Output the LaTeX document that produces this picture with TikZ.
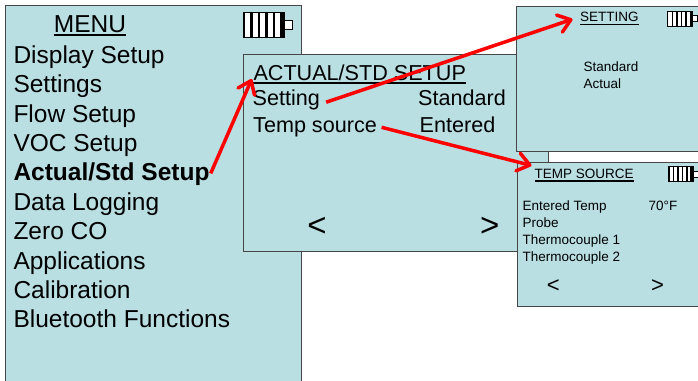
\documentclass[tikz,border=0pt]{standalone}
\usepackage{fontspec}
\setmainfont{Liberation Sans}
\usetikzlibrary{arrows.meta,calc}
\definecolor{scr}{RGB}{186,223,227}
\definecolor{edge}{RGB}{70,70,70}
\definecolor{arr}{RGB}{255,0,0}
\tikzset{
  battery/.pic={
    \draw[fill=white,line width=0.6pt] (0,0) rectangle (41,24.5);
    \fill (0,0) rectangle (2,24.5);
    \foreach \bx in {7.3,14.8,22.3,29.8} \fill (\bx,0) rectangle ++(2.3,24.5);
    \fill (36.5,0) rectangle (41,24.5);
    \draw[fill=white,line width=0.6pt] (41,7.5) rectangle (49.5,17);
  }
}
\begin{document}
\begin{tikzpicture}[x=1pt,y=-1pt,
  screen/.style={draw=edge,fill=scr,line width=1.3pt,inner sep=0,anchor=north west},
  big/.style={inner sep=0,anchor=base west,font=\fontsize{24.5}{28}\selectfont},
  mid/.style={inner sep=0,anchor=base west,font=\fontsize{21.6}{26}\selectfont},
  small/.style={inner sep=0,anchor=base west,font=\fontsize{13.5}{16}\selectfont},
  navbig/.style={inner sep=0,font=\fontsize{33}{36}\selectfont},
  navsmall/.style={inner sep=0,font=\fontsize{22}{26}\selectfont},
  uline/.style={line width=1.8pt},
  redarrow/.style={draw=arr,line width=3.5pt,-{Straight Barb[length=12pt,width=18pt,round]}},
]
\clip (0,0) rectangle (698,380);

% main menu screen
\node[screen,minimum width=296.5pt,minimum height=400pt] (menubox) at (4.5,4.5) {};
\node[big,anchor=base] (menu) at (90,32) {MENU};
\draw[uline] ($(menu.base west)+(0,3)$) -- ($(menu.base east)+(0,3)$);
\pic[scale=1] (batA) at (243,12.5) {battery};
\node[big] (m1) at (13.3,63.3) {Display Setup};
\node[big] (m2) at (13.3,92.7) {Settings};
\node[big] (m3) at (13.3,122.1) {Flow Setup};
\node[big] (m4) at (13.3,151.5) {VOC Setup};
\node[big,font=\fontsize{24.5}{28}\selectfont\bfseries] (actstd) at (13.3,180.9) {Actual/Std Setup};
\node[big] (m6) at (13.3,210.3) {Data Logging};
\node[big] (m7) at (13.3,239.7) {Zero CO};
\node[big] (m8) at (13.3,269.1) {Applications};
\node[big] (m9) at (13.3,298.5) {Calibration};
\node[big] (m10) at (13.3,327.9) {Bluetooth Functions};

% actual/std setup screen
\node[screen,minimum width=305pt,minimum height=197pt] (actbox) at (243,54) {};
\node[mid] (acttitle) at (253.3,80) {ACTUAL/STD SETUP};
\draw[uline,line width=2pt] ($(acttitle.base west)+(0,2.8)$) -- ($(acttitle.base east)+(0,2.8)$);
\node[mid] (setting) at (252.5,105.7) {Setting};
\node[mid] (stdval) at (418,105.7) {Standard};
\node[mid] (tempsrc) at (253,132.3) {Temp source};
\node[mid] (entval) at (419.5,132.3) {Entered};
\node[navbig] (prevA) at (317,226.5) {<};
\node[navbig] (nextA) at (489.7,226.5) {>};

% setting screen
\node[screen,minimum width=200pt,minimum height=145.5pt] (setbox) at (516,5.5) {};
\node[small] (settitle) at (580,21.7) {SETTING};
\draw[line width=1.2pt] ($(settitle.base west)+(0,2.5)$) -- ($(settitle.base east)+(0,2.5)$);
\node[small] (optstd) at (583.5,71.7) {Standard};
\node[small] (optact) at (583.5,88.3) {Actual};
\pic[scale=0.62] (batB) at (667,11) {battery};

% temp source screen
\node[screen,minimum width=200pt,minimum height=144.5pt] (tempbox) at (517,161.5) {};
\node[small] (temptitle) at (534.5,178.3) {TEMP SOURCE};
\draw[line width=1.2pt] ($(temptitle.base west)+(0,2.7)$) -- ($(temptitle.base east)+(0,2.7)$);
\node[small] (t1) at (522.5,210.7) {Entered Temp};
\node[small] (t1v) at (648.5,210.7) {70°F};
\node[small] (t2) at (522.5,227.3) {Probe};
\node[small] (t3) at (522.5,244.3) {Thermocouple 1};
\node[small] (t4) at (522.5,261.7) {Thermocouple 2};
\node[navsmall] (prevB) at (553.3,285.7) {<};
\node[navsmall] (nextB) at (657.5,285.7) {>};
\pic[scale=0.6] (batC) at (668.3,166.7) {battery};

% arrows
\draw[redarrow] ($(actstd.base east)+(1,-7.5)$) -- ($(acttitle.base west)+(-1.5,-1)$);
\draw[redarrow] ($(setting.base east)+(6,-3.5)$) -- ($(settitle.base west)+(-7.5,-2.5)$);
\draw[redarrow] ($(tempsrc.base east)+(4.5,-5)$) -- ($(temptitle.base west)+(-3,-12.8)$);
\end{tikzpicture}
\end{document}
